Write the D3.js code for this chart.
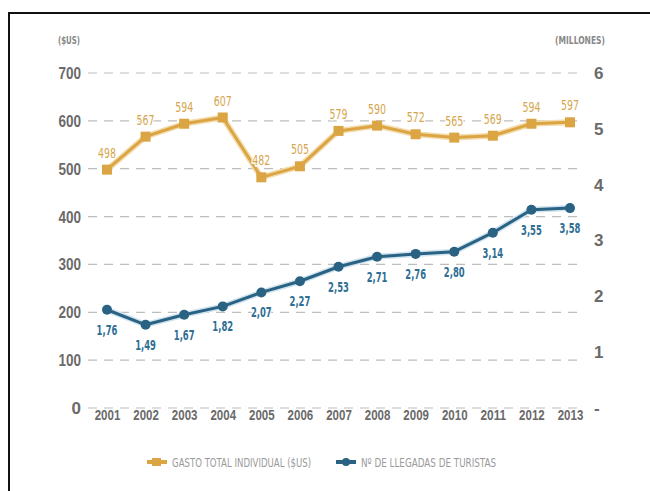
<!DOCTYPE html>
<html><head><meta charset="utf-8">
<script src="https://cdn.jsdelivr.net/npm/d3@7/dist/d3.min.js"></script>
<style>
html,body{margin:0;padding:0;background:#fff;}
svg{display:block;font-family:'DejaVu Sans Condensed','DejaVu Sans',sans-serif;font-stretch:condensed;}
</style></head><body>
<svg id="c" width="650" height="491"></svg>
<script>
const years = ["2001","2002","2003","2004","2005","2006","2007","2008","2009","2010","2011","2012","2013"];
const gasto = [498,567,594,607,482,505,579,590,572,565,569,594,597];
const llegadas = [1.76,1.49,1.67,1.82,2.07,2.27,2.53,2.71,2.76,2.80,3.14,3.55,3.58];
const leftTicks = [0,100,200,300,400,500,600,700];
const rightTicks = [0,1,2,3,4,5,6];
const rightTickLabels = ["-","1","2","3","4","5","6"];
const legendLabels = ["GASTO TOTAL INDIVIDUAL ($US)","Nº DE LLEGADAS DE TURISTAS"];

const GOLD="#dba543", BLUE="#2a6283", GOLDTXT="#d6a54c", BLUETXT="#2f6e93", AXIS="#6a6a6a";
const svg=d3.select("#c");
svg.append("rect").attr("x",9).attr("y",13).attr("width",700).attr("height",600)
  .attr("fill","none").attr("stroke","#111").attr("stroke-width",2);

const x=d3.scalePoint().domain(years).range([107,570]);
const yL=d3.scaleLinear().domain([0,700]).range([408,73]);
const yR=d3.scaleLinear().domain([0,6]).range([408,73]);

function squeeze(sel, perChar){
  sel.each(function(){
    const t=d3.select(this); const s=t.text();
    if(s.length>1) t.attr("textLength",s.length*perChar).attr("lengthAdjust","spacingAndGlyphs");
  });
}

// grid
svg.append("g").selectAll("line").data(leftTicks).join("line")
  .attr("x1",88).attr("x2",582).attr("y1",d=>yL(d)).attr("y2",d=>yL(d))
  .attr("stroke","#bdbdbd").attr("stroke-width",1.2).attr("stroke-dasharray","9,7");

// left axis
const la=svg.append("g").attr("transform","translate(81,0)")
  .call(d3.axisLeft(yL).tickValues(leftTicks).tickSize(0).tickPadding(0));
la.select(".domain").remove();
la.selectAll("text").attr("font-size",17).attr("font-weight","bold").attr("fill",AXIS).attr("font-family","inherit").call(squeeze,7.5);

// right axis
const ra=svg.append("g").attr("transform","translate(594,0)")
  .call(d3.axisRight(yR).tickValues(rightTicks).tickFormat((d,i)=>rightTickLabels[i]).tickSize(0).tickPadding(0));
ra.select(".domain").remove();
ra.selectAll("text").attr("font-size",17).attr("font-weight","bold").attr("fill",AXIS).attr("font-family","inherit");

// x axis
const xa=svg.append("g").attr("transform","translate(0,410)")
  .call(d3.axisBottom(x).tickSize(0).tickPadding(0));
xa.select(".domain").remove();
xa.selectAll("text").attr("font-size",14).attr("font-weight","bold").attr("fill",AXIS).attr("font-family","inherit").call(squeeze,6.4);

// unit labels
svg.append("text").attr("x",69).attr("y",44).attr("text-anchor","middle").attr("font-size",10).attr("font-weight","bold").attr("fill","#888").attr("textLength",22).attr("lengthAdjust","spacingAndGlyphs").text("($US)");
svg.append("text").attr("x",580).attr("y",44).attr("text-anchor","middle").attr("font-size",10).attr("font-weight","bold").attr("fill","#888").attr("textLength",50).attr("lengthAdjust","spacingAndGlyphs").text("(MILLONES)");

// gold line
const lineG=d3.line().x((d,i)=>x(years[i])).y(d=>yL(d));
svg.append("path").datum(gasto).attr("d",lineG).attr("fill","none").attr("stroke","#f3dcae").attr("stroke-width",6).attr("stroke-linejoin","round");
svg.append("path").datum(gasto).attr("d",lineG).attr("fill","none").attr("stroke",GOLD).attr("stroke-width",3).attr("stroke-linejoin","round");
svg.append("g").selectAll("rect").data(gasto).join("rect")
  .attr("x",(d,i)=>x(years[i])-5).attr("y",d=>yL(d)-5).attr("width",10).attr("height",10).attr("fill",GOLD);
svg.append("g").selectAll("text").data(gasto).join("text")
  .attr("x",(d,i)=>x(years[i])).attr("y",d=>yL(d)-12).attr("text-anchor","middle")
  .attr("font-size",14).attr("fill",GOLDTXT).attr("stroke","#fff").attr("stroke-width",3).attr("paint-order","stroke")
  .text(d=>d).call(squeeze,6);

// blue line
const lineB=d3.line().x((d,i)=>x(years[i])).y(d=>yR(d));
svg.append("path").datum(llegadas).attr("d",lineB).attr("fill","none").attr("stroke","#cfe3ef").attr("stroke-width",6).attr("stroke-linejoin","round");
svg.append("path").datum(llegadas).attr("d",lineB).attr("fill","none").attr("stroke",BLUE).attr("stroke-width",3).attr("stroke-linejoin","round");
svg.append("g").selectAll("circle").data(llegadas).join("circle")
  .attr("cx",(d,i)=>x(years[i])).attr("cy",d=>yR(d)).attr("r",5).attr("fill",BLUE);
svg.append("g").selectAll("text").data(llegadas).join("text")
  .attr("x",(d,i)=>x(years[i])).attr("y",d=>yR(d)+25).attr("text-anchor","middle")
  .attr("font-size",14).attr("font-weight","bold").attr("fill",BLUETXT).attr("stroke","#fff").attr("stroke-width",3).attr("paint-order","stroke")
  .text(d=>d3.format(".2f")(d).replace(".",",")).call(squeeze,5.2);

// legend
const lg=[{c:GOLD,sq:true,x:147,w:139},{c:BLUE,sq:false,x:336,w:135}];
lg.forEach((l,i)=>{
  const g=svg.append("g").attr("transform",`translate(${l.x},462)`);
  g.append("line").attr("x1",0).attr("x2",20).attr("stroke",l.c).attr("stroke-width",4);
  if(l.sq) g.append("rect").attr("x",5).attr("y",-4).attr("width",9).attr("height",8).attr("fill",l.c);
  else g.append("circle").attr("cx",10).attr("r",4).attr("fill",l.c);
  g.append("text").attr("x",25).attr("y",5).attr("font-size",13).attr("fill","#9a9a9a")
    .attr("textLength",l.w).attr("lengthAdjust","spacingAndGlyphs").text(legendLabels[i]);
});
</script></body></html>
